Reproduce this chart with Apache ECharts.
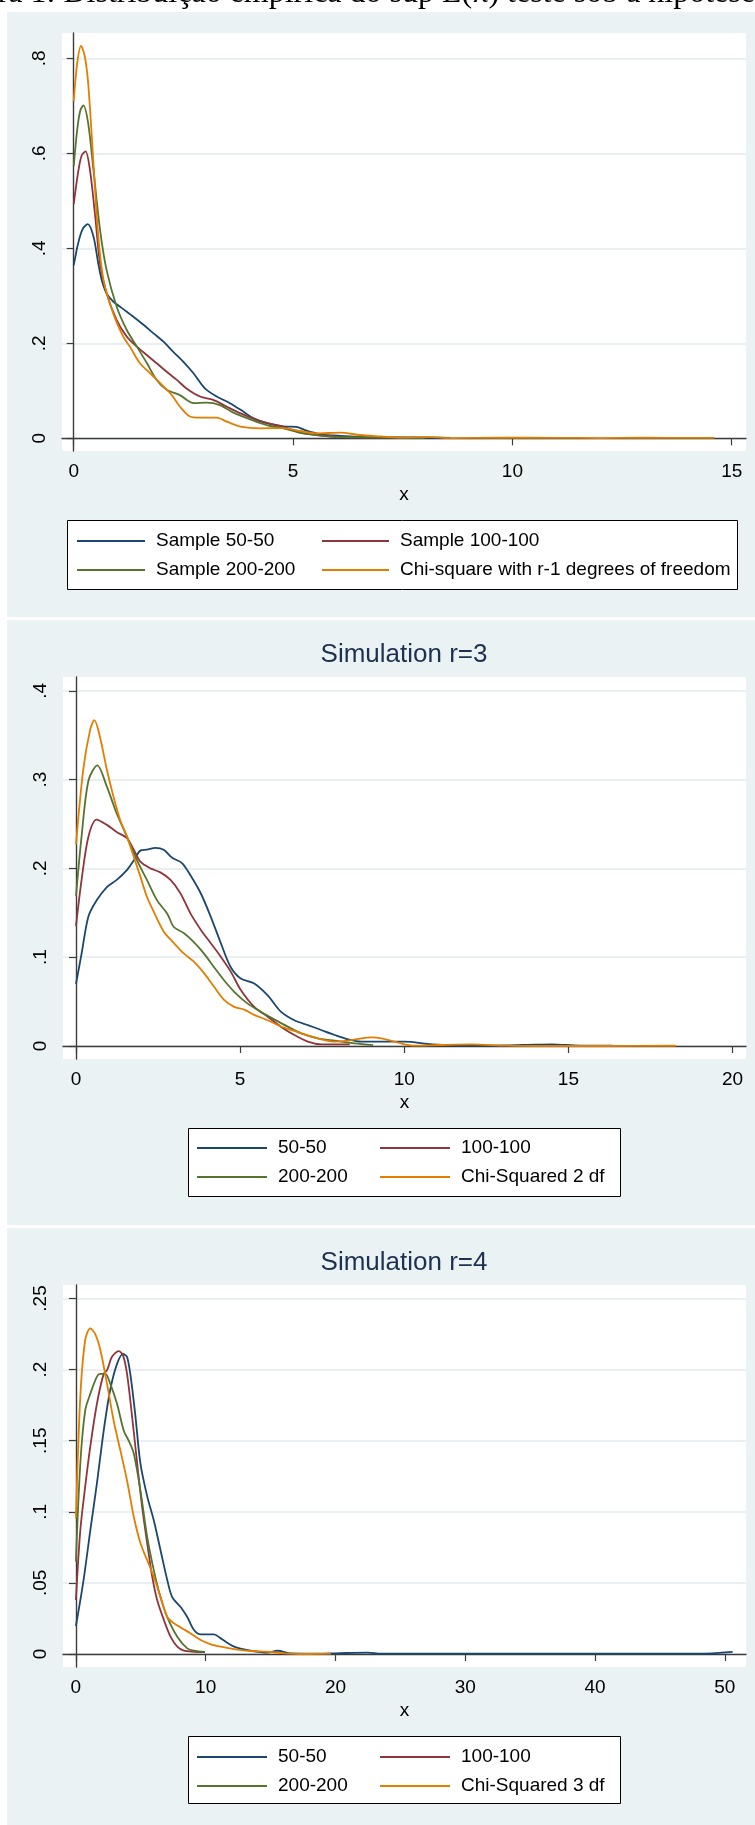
<!DOCTYPE html>
<html>
<head>
<meta charset="utf-8">
<title>Simulation</title>
<script src="https://cdn.jsdelivr.net/npm/echarts@6.0.0/dist/echarts.min.js"></script>
<style>
html, body { margin:0; padding:0; background:#fff; }
#chart { width:755px; height:1825px; }
</style>
</head>
<body>
<div id="chart"></div>
<script>
// ---------- tick labels ----------
var p1TicksX = [0, 5, 10, 15];
var p1TicksY = [0, 0.2, 0.4, 0.6, 0.8];
var p2TicksX = [0, 5, 10, 15, 20];
var p2TicksY = [0, 0.1, 0.2, 0.3, 0.4];
var p3TicksX = [0, 10, 20, 30, 40, 50];
var p3TicksY = [0, 0.05, 0.1, 0.15, 0.2, 0.25];

// ---------- legend names ----------
var p1Names = ['Sample 50-50', 'Sample 100-100', 'Sample 200-200', 'Chi-square with r-1 degrees of freedom'];
var p2Names = ['50-50', '100-100', '200-200', 'Chi-Squared 2 df'];
var p3Names = ['50-50', '100-100', '200-200', 'Chi-Squared 3 df'];
var titles = ['Simulation r=3', 'Simulation r=4'];

// ---------- panel 1 (r=2) ----------
var p1x50 = [0, 0.1, 0.2, 0.32, 0.45, 0.56, 0.64, 0.75, 0.9, 1.13, 1.36, 1.59, 1.82, 2.04, 2.27, 2.5, 2.73, 2.99, 3.26, 3.56, 3.87, 4.1, 4.4, 4.78, 5.08, 5.31, 5.6, 5.92, 6.3, 7.0, 7.96, 8.58];
var p1y50 = [0.364, 0.41, 0.44, 0.451, 0.425, 0.368, 0.333, 0.305, 0.288, 0.272, 0.256, 0.239, 0.221, 0.204, 0.182, 0.161, 0.137, 0.105, 0.088, 0.074, 0.056, 0.042, 0.032, 0.025, 0.024, 0.016, 0.009, 0.006, 0.004, 0.002, 0.002, 0.001];
var p1x100 = [0, 0.1, 0.18, 0.27, 0.37, 0.49, 0.6, 0.75, 0.98, 1.21, 1.44, 1.67, 1.89, 2.12, 2.35, 2.57, 2.88, 3.18, 3.48, 3.79, 4.17, 4.47, 4.78, 5.16, 5.54, 6.0, 6.5, 7.6];
var p1y100 = [0.493, 0.56, 0.595, 0.604, 0.565, 0.467, 0.368, 0.305, 0.249, 0.214, 0.193, 0.175, 0.158, 0.14, 0.123, 0.105, 0.088, 0.081, 0.067, 0.053, 0.039, 0.031, 0.024, 0.012, 0.007, 0.003, 0.002, 0.001];
var p1x200 = [0, 0.08, 0.15, 0.22, 0.33, 0.45, 0.6, 0.75, 0.98, 1.21, 1.44, 1.67, 1.89, 2.12, 2.42, 2.73, 3.03, 3.33, 3.64, 4.02, 4.4, 4.78, 5.23, 5.92, 6.8, 8.0];
var p1y200 = [0.573, 0.65, 0.69, 0.701, 0.663, 0.565, 0.439, 0.354, 0.277, 0.228, 0.193, 0.158, 0.123, 0.102, 0.091, 0.074, 0.075, 0.07, 0.054, 0.04, 0.028, 0.021, 0.0105, 0.0035, 0.002, 0.001];
var p1xChi = [0, 0.08, 0.167, 0.25, 0.33, 0.45, 0.56, 0.68, 0.9, 1.13, 1.28, 1.51, 1.74, 1.97, 2.2, 2.42, 2.65, 2.88, 3.26, 3.49, 3.8, 4.25, 4.78, 5.16, 5.54, 6.07, 6.53, 7.0, 7.44, 8.12, 8.58, 9.72, 11, 12, 13, 14, 14.6];
var p1yChi = [0.71, 0.79, 0.826, 0.805, 0.747, 0.579, 0.425, 0.333, 0.263, 0.214, 0.193, 0.158, 0.137, 0.116, 0.095, 0.067, 0.046, 0.0435, 0.0435, 0.035, 0.0246, 0.021, 0.0215, 0.0154, 0.0105, 0.0119, 0.007, 0.004, 0.0013, 0.0027, 0.0006, 0.0013, 0.001, 0.0006, 0.0012, 0.0008, 0.001];

// ---------- panel 2 (r=3) ----------
var p2x50 = [0, 0.17, 0.38, 0.63, 0.94, 1.24, 1.55, 1.76, 1.96, 2.16, 2.42, 2.67, 2.93, 3.23, 3.49, 3.8, 4.1, 4.41, 4.71, 5.02, 5.43, 5.84, 6.24, 6.65, 7.06, 7.47, 7.88, 8.29, 8.69, 9.3, 10.0, 10.85, 12.06, 13.6, 14.5, 15.35, 16.35];
var p2y50 = [0.07, 0.104, 0.146, 0.164, 0.179, 0.187, 0.198, 0.209, 0.22, 0.221, 0.223, 0.221, 0.212, 0.206, 0.192, 0.172, 0.146, 0.116, 0.089, 0.076, 0.0705, 0.057, 0.0387, 0.029, 0.0236, 0.018, 0.0124, 0.0075, 0.0049, 0.0049, 0.0049, 0.0019, 0.0004, 0.0011, 0.0019, 0.0004, 0.0004];
var p2x100 = [0, 0.17, 0.38, 0.63, 0.94, 1.24, 1.55, 1.76, 1.96, 2.27, 2.57, 2.88, 3.18, 3.49, 3.8, 4.1, 4.41, 4.71, 5.02, 5.43, 5.84, 6.24, 6.65, 7.06, 7.47, 8.34];
var p2y100 = [0.135, 0.187, 0.236, 0.255, 0.249, 0.241, 0.234, 0.221, 0.2075, 0.2, 0.1955, 0.187, 0.172, 0.149, 0.131, 0.116, 0.1006, 0.084, 0.063, 0.044, 0.033, 0.0218, 0.0124, 0.0049, 0.0019, 0.0019];
var p2x200 = [0, 0.17, 0.38, 0.65, 0.94, 1.24, 1.55, 1.86, 2.16, 2.47, 2.78, 2.98, 3.29, 3.59, 3.9, 4.2, 4.51, 4.82, 5.22, 5.63, 6.04, 6.45, 6.86, 7.37, 7.88, 8.49, 9.05];
var p2y200 = [0.169, 0.236, 0.299, 0.316, 0.292, 0.262, 0.236, 0.209, 0.187, 0.164, 0.149, 0.134, 0.127, 0.117, 0.104, 0.089, 0.074, 0.061, 0.048, 0.0386, 0.03, 0.0218, 0.0143, 0.0086, 0.006, 0.003, 0.001];
var p2xChi = [0, 0.22, 0.43, 0.56, 0.73, 0.94, 1.14, 1.35, 1.55, 1.76, 1.96, 2.16, 2.37, 2.67, 2.98, 3.29, 3.59, 3.9, 4.2, 4.51, 4.82, 5.12, 5.43, 5.84, 6.24, 6.65, 7.06, 7.47, 7.88, 8.29, 8.69, 9.0, 9.3, 9.82, 10.3, 11.04, 12.06, 13.08, 14.1, 16.1, 18.27];
var p2yChi = [0.227, 0.311, 0.356, 0.367, 0.348, 0.311, 0.281, 0.254, 0.236, 0.213, 0.191, 0.168, 0.151, 0.129, 0.116, 0.104, 0.095, 0.082, 0.067, 0.052, 0.044, 0.041, 0.035, 0.029, 0.022, 0.017, 0.012, 0.0075, 0.0049, 0.006, 0.0086, 0.0098, 0.0087, 0.0037, 0.0004, 0.0011, 0.0019, 0.0004, 0, 0, 0.0003];

// ---------- panel 3 (r=4) ----------
var p3x50 = [0, 0.59, 1.11, 1.62, 2.14, 2.65, 3.17, 3.63, 3.94, 4.25, 4.59, 4.97, 5.49, 6.0, 6.52, 7.04, 7.42, 8.07, 8.58, 9.1, 9.61, 10.64, 11.16, 12.19, 13.48, 14.77, 15.54, 16.57, 18.6, 20, 22.5, 23.5, 30, 40, 48, 50.6];
var p3y50 = [0.0197, 0.052, 0.087, 0.12, 0.157, 0.186, 0.204, 0.211, 0.209, 0.193, 0.167, 0.134, 0.111, 0.094, 0.073, 0.052, 0.04, 0.033, 0.026, 0.0169, 0.0138, 0.0138, 0.011, 0.0052, 0.0023, 0.0009, 0.0023, 0.0005, 0.0003, 0.0005, 0.001, 0.0002, 0.0002, 0.0002, 0.0002, 0.0015];
var p3x100 = [0, 0.34, 0.72, 1.11, 1.62, 2.14, 2.4, 2.78, 3.3, 3.63, 3.94, 4.33, 4.72, 5.1, 5.49, 5.88, 6.26, 6.78, 7.29, 7.81, 8.32, 9.1, 9.95];
var p3y100 = [0.038, 0.087, 0.118, 0.146, 0.176, 0.197, 0.1996, 0.209, 0.213, 0.21, 0.197, 0.167, 0.134, 0.1036, 0.078, 0.0544, 0.038, 0.0239, 0.0122, 0.0052, 0.0023, 0.0016, 0.0014];
var p3x200 = [0, 0.34, 0.72, 1.11, 1.62, 1.88, 2.27, 2.65, 3.17, 3.69, 4.07, 4.46, 4.97, 5.49, 6.0, 6.52, 7.04, 7.81, 8.58, 9.1, 9.92];
var p3y200 = [0.065, 0.134, 0.1715, 0.183, 0.195, 0.197, 0.197, 0.19, 0.176, 0.157, 0.15, 0.141, 0.115, 0.0825, 0.059, 0.04, 0.026, 0.0122, 0.004, 0.0023, 0.0014];
var p3xChi = [0, 0.34, 0.72, 1.11, 1.49, 1.88, 2.4, 2.91, 3.43, 3.94, 4.46, 4.97, 5.49, 6.0, 6.52, 7.04, 7.55, 8.2, 8.84, 9.61, 10.39, 11.16, 12.19, 13.48, 14.77, 16.06, 17.5, 19.66];
var p3yChi = [0.0954, 0.181, 0.221, 0.229, 0.225, 0.214, 0.19, 0.164, 0.143, 0.122, 0.0965, 0.078, 0.066, 0.0544, 0.04, 0.026, 0.0216, 0.018, 0.0145, 0.0098, 0.0068, 0.0052, 0.0035, 0.0021, 0.0016, 0.0005, 0, 0.0003];

// stata s2color palette
var colors = ['#1A476F', '#90353B', '#55752F', '#E37E00'];
var FONT = '"Liberation Sans", Arial, sans-serif';
var BG = '#EAF2F3';

function pts(xs, ys) {
    var out = [];
    for (var i = 0; i < xs.length; i++) out.push([xs[i], ys[i]]);
    return out;
}

function yFmt(v) {
    if (v === 0) return '0';
    return String(v).replace(/^0\./, '.');
}

function xAxisOf(idx, min, max, ticks) {
    return {
        type: 'value', gridIndex: idx, min: min, max: max,
        name: 'x', nameLocation: 'middle', nameGap: 34,
        nameTextStyle: { fontFamily: FONT, fontSize: 19, color: '#000' },
        axisLine: { show: true, lineStyle: { color: '#3c3c3c', width: 1.4 } },
        axisTick: { show: true, inside: false, length: 7, customValues: ticks, lineStyle: { color: '#3c3c3c', width: 1.2 } },
        axisLabel: { customValues: ticks, margin: 11, fontFamily: FONT, fontSize: 19, color: '#000' },
        splitLine: { show: false }
    };
}

function yAxisOf(idx, min, max, ticks) {
    return {
        type: 'value', gridIndex: idx, min: min, max: max,
        axisLine: { show: true, lineStyle: { color: '#3c3c3c', width: 1.4 } },
        axisTick: { show: true, inside: false, length: 7, customValues: ticks, lineStyle: { color: '#3c3c3c', width: 1.2 } },
        axisLabel: { customValues: ticks, rotate: 90, margin: 13, fontFamily: FONT, fontSize: 19, color: '#000', formatter: yFmt },
        splitLine: { show: true, lineStyle: { color: '#E3EBED', width: 1.6 } }
    };
}

function line(name, idx, xs, ys, c) {
    return {
        name: name, type: 'line', xAxisIndex: idx, yAxisIndex: idx,
        data: pts(xs, ys), showSymbol: false, symbol: 'none',
        smooth: 0.3, color: colors[c],
        lineStyle: { color: colors[c], width: 1.8 },
        z: 2 + c
    };
}

// two vertical legends per panel = 2 columns
function legendCol(left, top, names, w) {
    return {
        orient: 'vertical', left: left, top: top, padding: 0,
        data: names, icon: 'rect', itemWidth: w, itemHeight: 2, itemGap: 9,
        itemStyle: { borderWidth: 0 }, selectedMode: false,
        textStyle: { fontFamily: FONT, fontSize: 19, color: '#000', lineHeight: 20, padding: [0, 0, 0, 6] }
    };
}

var chart = echarts.init(document.getElementById('chart'), null, { renderer: 'canvas' });

chart.setOption({
    backgroundColor: BG,
    animation: false,
    grid: [
        { left: 62, top: 33, width: 684, height: 418, show: true, backgroundColor: '#fff', borderWidth: 0 },
        { left: 63, top: 677, width: 683, height: 382, show: true, backgroundColor: '#fff', borderWidth: 0 },
        { left: 63, top: 1285, width: 683, height: 382, show: true, backgroundColor: '#fff', borderWidth: 0 }
    ],
    xAxis: [
        xAxisOf(0, -0.267, 15.325, p1TicksX),
        xAxisOf(1, -0.396, 20.41, p2TicksX),
        xAxisOf(2, -0.994, 51.63, p3TicksX)
    ],
    yAxis: [
        yAxisOf(0, -0.0267, 0.8533, p1TicksY),
        yAxisOf(1, -0.01464, 0.4155, p2TicksY),
        yAxisOf(2, -0.00914, 0.2595, p3TicksY)
    ],
    legend: [
        legendCol(77, 531, [p1Names[0], p1Names[2]], 68),
        legendCol(322, 531, [p1Names[1], p1Names[3]], 67),
        legendCol(197, 1138, [p2Names[0], p2Names[2]], 70),
        legendCol(380, 1138, [p2Names[1], p2Names[3]], 70),
        legendCol(197, 1747, [p3Names[0], p3Names[2]], 70),
        legendCol(380, 1747, [p3Names[1], p3Names[3]], 70)
    ],
    graphic: [
        // white page round the stata panels
        { type: 'rect', shape: { x: 0, y: 0, width: 755, height: 12 }, style: { fill: '#fff' } },
        { type: 'rect', shape: { x: 0, y: 0, width: 7, height: 1825 }, style: { fill: '#fff' } },
        { type: 'rect', shape: { x: 0, y: 617, width: 755, height: 3 }, style: { fill: '#fff' } },
        { type: 'rect', shape: { x: 0, y: 1225, width: 755, height: 3 }, style: { fill: '#fff' } },
        // figure caption, cut off at the top
        { type: 'text', x: -61, y: -6, style: { text: 'Figura 1: Distribuição empírica do sup L(π) teste sob a hipótese nula', font: '32px "Liberation Serif", serif', fill: '#000', verticalAlign: 'middle' } },
        // legend boxes
        { type: 'rect', shape: { x: 67.5, y: 520.5, width: 670, height: 69 }, style: { fill: '#fff', stroke: '#000', lineWidth: 1 } },
        { type: 'rect', shape: { x: 188.5, y: 1128.5, width: 432, height: 68 }, style: { fill: '#fff', stroke: '#000', lineWidth: 1 } },
        { type: 'rect', shape: { x: 188.5, y: 1736.5, width: 432, height: 67 }, style: { fill: '#fff', stroke: '#000', lineWidth: 1 } },
        // panel titles
        { type: 'text', x: 404, y: 655, style: { text: titles[0], font: '26px "Liberation Sans", Arial, sans-serif', fill: '#1E3152', align: 'center', verticalAlign: 'middle' } },
        { type: 'text', x: 404, y: 1263, style: { text: titles[1], font: '26px "Liberation Sans", Arial, sans-serif', fill: '#1E3152', align: 'center', verticalAlign: 'middle' } }
    ],
    series: [
        line(p1Names[0], 0, p1x50, p1y50, 0),
        line(p1Names[1], 0, p1x100, p1y100, 1),
        line(p1Names[2], 0, p1x200, p1y200, 2),
        line(p1Names[3], 0, p1xChi, p1yChi, 3),

        line(p2Names[0], 1, p2x50, p2y50, 0),
        line(p2Names[1], 1, p2x100, p2y100, 1),
        line(p2Names[2], 1, p2x200, p2y200, 2),
        line(p2Names[3], 1, p2xChi, p2yChi, 3),

        line(p3Names[0], 2, p3x50, p3y50, 0),
        line(p3Names[1], 2, p3x100, p3y100, 1),
        line(p3Names[2], 2, p3x200, p3y200, 2),
        line(p3Names[3], 2, p3xChi, p3yChi, 3)
    ]
});
</script>
</body>
</html>
